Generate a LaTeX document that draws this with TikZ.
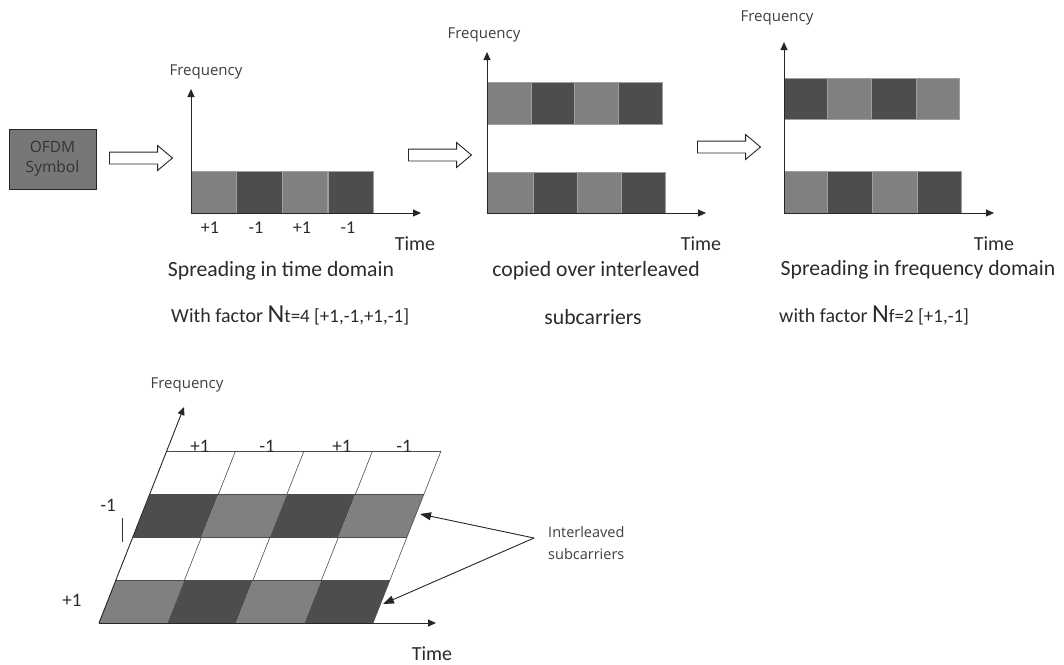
\documentclass[tikz,border=0pt]{standalone}
\usepackage{fontspec}
\setmainfont{Carlito}
\newfontfamily\labelfont{Open Sans}
\usetikzlibrary{arrows.meta,shapes.arrows}
\definecolor{lightcell}{HTML}{808080}
\definecolor{darkcell}{HTML}{4D4D4D}
\definecolor{boxgray}{HTML}{777777}
\definecolor{ink}{HTML}{2A2A2A}
\begin{document}
\begin{tikzpicture}[x=1pt,y=-1pt,
  axis/.style={draw=black!85, line width=0.9pt, -{Triangle[length=8pt,width=7pt]}},
  pointer/.style={draw=black!85, line width=0.9pt, -{Triangle[length=11pt,width=8pt]}},
  lbl/.style={text=ink!90, font=\labelfont\fontsize{15}{18}\selectfont, inner sep=0pt},
  captxt/.style={text=ink, font=\fontsize{21.7}{26}\selectfont, inner sep=0pt},
  timetxt/.style={text=ink, font=\fontsize{20}{24}\selectfont, inner sep=0pt},
  sign/.style={text=ink, font=\fontsize{18}{21}\selectfont, inner sep=0pt},
  bigsign/.style={text=ink, font=\fontsize{19}{22}\selectfont, inner sep=0pt},
  lc/.style={fill=lightcell, draw=gray!75, line width=0.5pt},
  dc/.style={fill=darkcell, draw=gray!75, line width=0.5pt},
  hollow/.style={single arrow, draw=black!85, fill=white, line width=0.9pt,
    inner sep=0pt, text height=11pt, text depth=0pt, minimum height=63pt,
    minimum width=24pt, single arrow head extend=6.5pt, single arrow tip angle=80,
    anchor=tail},
  symbox/.style={draw=black!85, fill=boxgray, line width=1pt, minimum width=87pt,
    minimum height=60pt, align=center, text=black!80,
    font=\labelfont\fontsize{15.5}{20}\selectfont}
]
\useasboundingbox (0,0) rectangle (1064,664);

% ---------- input symbol ----------
\node[symbox] (sym) at (52.5,159) {OFDM\\Symbol};
\node[hollow] (ar1) at (109,158) {};

% ---------- spreading in time ----------
\draw[lc] (191,171) rectangle (236,213);
\draw[dc] (236,171) rectangle (282,213);
\draw[lc] (282,171) rectangle (327,213);
\draw[dc] (328,171) rectangle (373,213);
\coordinate (o1) at (191,213);
\coordinate (f1) at (191,89);
\coordinate (t1) at (421,213);
\draw[axis] (o1) -- (f1);
\draw[axis] (o1) -- (t1);
\node[lbl] (fq1) at (206,72) {Frequency};
\node[sign] (s11) at (210,228) {+1};
\node[sign] (s12) at (256,228) {-1};
\node[sign] (s13) at (302,228) {+1};
\node[sign] (s14) at (348,228) {-1};
\node[timetxt] (tm1) at (415,244) {Time};
\node[captxt] (c1) at (281,271) {Spreading in time domain};
\node[text=ink, inner sep=0pt, anchor=west] (c1b) at (171,315)
  {\fontsize{20}{24}\selectfont With factor {\fontsize{26}{27}\selectfont N}\fontsize{19}{22}\selectfont t=4 [+1,-1,+1,-1]};

\node[hollow] (ar2) at (408,155) {};

% ---------- copies on interleaved subcarriers ----------
\draw[lc] (487,82) rectangle (531,124);
\draw[dc] (531,82) rectangle (574,124);
\draw[lc] (574,82) rectangle (618,124);
\draw[dc] (618,82) rectangle (662,124);
\draw[lc] (487,172) rectangle (533,213);
\draw[dc] (533,172) rectangle (577,213);
\draw[lc] (577,172) rectangle (621,213);
\draw[dc] (621,172) rectangle (665,213);
\coordinate (o2) at (487,213);
\coordinate (f2) at (487,52);
\coordinate (t2) at (706,213);
\draw[axis] (o2) -- (f2);
\draw[axis] (o2) -- (t2);
\node[lbl] (fq2) at (484,35) {Frequency};
\node[timetxt] (tm2) at (701,244) {Time};
\node[captxt] (c2) at (596,271) {copied over interleaved};
\node[captxt] (c2b) at (593,317) {subcarriers};

\node[hollow] (ar3) at (697,147) {};

% ---------- spreading in frequency ----------
\draw[dc] (784,78) rectangle (827,119);
\draw[lc] (827,78) rectangle (871,119);
\draw[dc] (871,78) rectangle (916,119);
\draw[lc] (916,78) rectangle (959,119);
\draw[lc] (784,171) rectangle (827,213);
\draw[dc] (827,171) rectangle (872,213);
\draw[lc] (872,171) rectangle (917,213);
\draw[dc] (917,171) rectangle (961,213);
\coordinate (o3) at (784,213);
\coordinate (f3) at (784,42);
\coordinate (t3) at (994,213);
\draw[axis] (o3) -- (f3);
\draw[axis] (o3) -- (t3);
\node[lbl] (fq3) at (777,18) {Frequency};
\node[timetxt] (tm3) at (994,244) {Time};
\node[captxt] (c3) at (918,270) {Spreading in frequency domain};
\node[text=ink, inner sep=0pt, anchor=west] (c3b) at (779,315)
  {\fontsize{20}{24}\selectfont with factor {\fontsize{26}{27}\selectfont N}\fontsize{19}{22}\selectfont f=2 [+1,-1]};

% ---------- time-frequency grid (slanted) ----------
\begin{scope}[shift={(99,623)}, x={(68.5pt,0pt)}, y={(17pt,43pt)}]
  \foreach \i/\c in {0/lightcell,1/darkcell,2/lightcell,3/darkcell}
    \fill[\c] (\i,0) -- (\i+1,0) -- (\i+1,1) -- (\i,1) -- cycle;
  \foreach \i/\c in {0/darkcell,1/lightcell,2/darkcell,3/lightcell}
    \fill[\c] (\i,2) -- (\i+1,2) -- (\i+1,3) -- (\i,3) -- cycle;
  \foreach \k in {1,2,3,4}
    \draw[black!70, line width=0.6pt] (0,\k) -- (4,\k);
  \foreach \i in {1,2,3}
    \draw[black!70, line width=0.6pt] (\i,1) -- (\i,2) (\i,3) -- (\i,4);
  \draw[black!70, line width=0.6pt] (4,0) -- (4,4);
\end{scope}
\coordinate (o4) at (99,623);
\coordinate (f4) at (184,407);
\coordinate (t4) at (436,623);
\draw[axis] (o4) -- (f4);
\draw[axis] (o4) -- (t4);
\node[lbl] (fq4) at (187,385) {Frequency};
\node[timetxt, anchor=base] (tm4) at (432,660) {Time};
\node[bigsign, anchor=base] (g1) at (200,452) {+1};
\node[bigsign, anchor=base] (g2) at (267,452) {-1};
\node[bigsign, anchor=base] (g3) at (342,452) {+1};
\node[bigsign, anchor=base] (g4) at (404,452) {-1};
\node[bigsign] (lm) at (108,505) {-1};
\node[bigsign] (lp) at (72,600) {+1};
\draw[black!80, line width=0.8pt] (122,518) -- (122,542);

% ---------- annotation ----------
\node[lbl, anchor=west, align=left, font=\labelfont\fontsize{14.5}{22}\selectfont] (note) at (548,543)
  {Interleaved\\subcarriers};
\coordinate (fork) at (534,538);
\coordinate (tipA) at (420,514);
\coordinate (tipB) at (383,604);
\draw[pointer] (fork) -- (tipA);
\draw[pointer] (fork) -- (tipB);
\end{tikzpicture}
\end{document}
